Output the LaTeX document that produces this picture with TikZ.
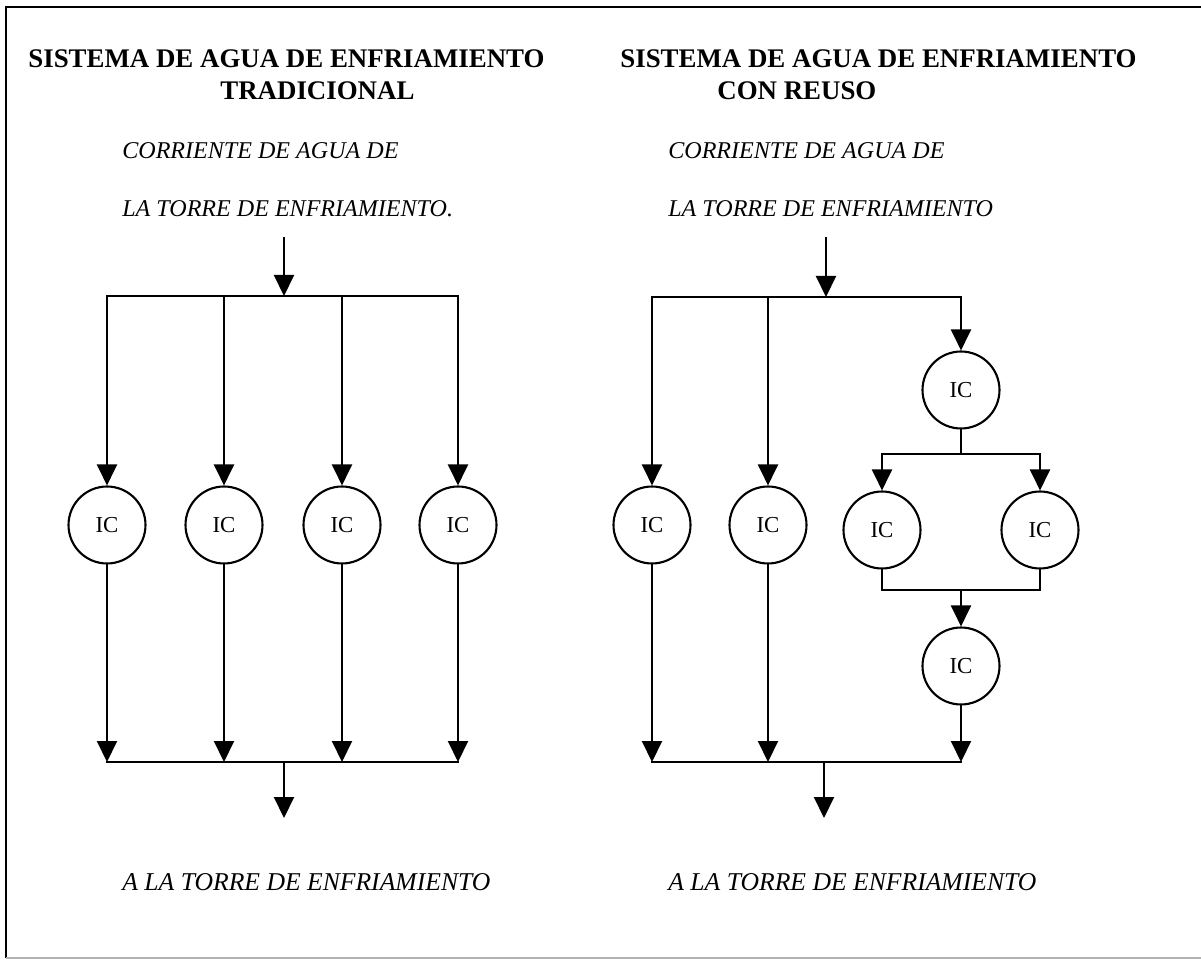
\documentclass[tikz,border=0pt]{standalone}
\usepackage{fontspec}
\setmainfont{Liberation Serif}
\usetikzlibrary{arrows.meta}
\begin{document}
\begin{tikzpicture}[x=0.02cm,y=-0.02cm,
  pipe/.style={line width=1.2pt, line cap=rect},
  flow/.style={pipe, -{Triangle[width=0.4cm,length=0.42cm]}},
  ic/.style={circle, draw, line width=1.2pt, minimum size=1.54cm, inner sep=0pt,
             font=\fontsize{13}{15}\selectfont},
  title/.style={anchor=base west, inner sep=0pt, font=\fontsize{15.3}{18}\selectfont\bfseries},
  caption/.style={anchor=base west, inner sep=0pt, font=\fontsize{13.7}{16}\selectfont\itshape},
  outcaption/.style={caption, font=\fontsize{14.6}{17}\selectfont\itshape}]
\useasboundingbox (0,0) rectangle (1201,962);

% frame
\draw[line width=1.3pt] (1201,7) -- (6,7) -- (6,958);
\draw[line width=1pt, black!30] (6,958) -- (1201,958);

% ---------------- traditional system ----------------
\node[title] (lt1) at (28,68) {SISTEMA DE AGUA DE ENFRIAMIENTO};
\node[title] (lt2) at (220,100) {TRADICIONAL};
\node[caption] (lc1) at (122,159) {CORRIENTE DE AGUA DE};
\node[caption] (lc2) at (122,217) {LA TORRE DE ENFRIAMIENTO.};
\node[outcaption] (lc3) at (122,890) {A LA TORRE DE ENFRIAMIENTO};

\coordinate (Lin) at (284,238);
\coordinate (Lj) at (284,296);
\coordinate (Lo) at (284,762);
\coordinate (Lout) at (284,818);
\foreach \i/\x in {1/107,2/224,3/342,4/458}{
  \coordinate (Lt\i) at (\x,296);
  \coordinate (Lb\i) at (\x,762);
  \node[ic] (L\i) at (\x,525) {IC};
}
\draw[flow] (Lin) -- (Lj);
\draw[pipe] (Lt1) -- (Lt4);
\foreach \i in {1,...,4}{
  \draw[flow] (Lt\i) -- (L\i.north);
  \draw[flow] (L\i.south) -- (Lb\i);
}
\draw[pipe] (Lb1) -- (Lb4);
\draw[flow] (Lo) -- (Lout);

% ---------------- system with reuse ----------------
\node[title] (rt1) at (620,68) {SISTEMA DE AGUA DE ENFRIAMIENTO};
\node[title] (rt2) at (717,100) {CON REUSO};
\node[caption] (rc1) at (668,159) {CORRIENTE DE AGUA DE};
\node[caption] (rc2) at (668,217) {LA TORRE DE ENFRIAMIENTO};
\node[outcaption] (rc3) at (668,890) {A LA TORRE DE ENFRIAMIENTO};

\coordinate (Rin) at (826,238);
\coordinate (Rj) at (826,297);
\coordinate (Rt1) at (652,297);
\coordinate (Rt2) at (768,297);
\coordinate (Rt3) at (961,297);
\node[ic] (R1) at (652,525) {IC};
\node[ic] (R2) at (768,525) {IC};
\node[ic] (T) at (961,390) {IC};
\coordinate (Rs) at (961,454);
\coordinate (Rsl) at (882,454);
\coordinate (Rsr) at (1040,454);
\node[ic] (P1) at (882,530) {IC};
\node[ic] (P2) at (1040,530) {IC};
\coordinate (Rm) at (961,590);
\node[ic] (B) at (961,666) {IC};
\coordinate (Rb1) at (652,762);
\coordinate (Rb2) at (768,762);
\coordinate (Rb3) at (961,762);
\coordinate (Ro) at (824,762);
\coordinate (Rout) at (824,818);

\draw[flow] (Rin) -- (Rj);
\draw[pipe] (Rt1) -- (Rt3);
\draw[flow] (Rt1) -- (R1.north);
\draw[flow] (Rt2) -- (R2.north);
\draw[flow] (Rt3) -- (T.north);
\draw[pipe] (T.south) -- (Rs);
\draw[pipe] (Rsl) -- (Rsr);
\draw[flow] (Rsl) -- (P1.north);
\draw[flow] (Rsr) -- (P2.north);
\draw[pipe] (P1.south) |- (Rm) -| (P2.south);
\draw[flow] (Rm) -- (B.north);
\draw[flow] (R1.south) -- (Rb1);
\draw[flow] (R2.south) -- (Rb2);
\draw[flow] (B.south) -- (Rb3);
\draw[pipe] (Rb1) -- (Rb3);
\draw[flow] (Ro) -- (Rout);
\end{tikzpicture}
\end{document}
